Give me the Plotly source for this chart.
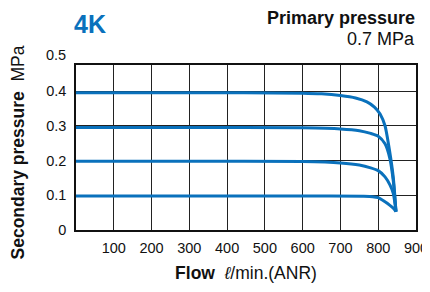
import plotly.graph_objects as go

# Data
flow_04 = [0, 300, 600, 650, 700, 740, 770, 790, 805, 818, 830, 840, 847]
pres_04 = [0.395, 0.395, 0.394, 0.392, 0.387, 0.380, 0.369, 0.354, 0.334, 0.300, 0.228, 0.150, 0.053]

flow_03 = [0, 300, 600, 700, 750, 780, 800, 818, 831, 840, 847]
pres_03 = [0.295, 0.295, 0.294, 0.291, 0.286, 0.278, 0.270, 0.248, 0.205, 0.140, 0.053]

flow_02 = [0, 300, 600, 700, 750, 780, 800, 818, 831, 840, 847]
pres_02 = [0.198, 0.198, 0.197, 0.193, 0.187, 0.179, 0.171, 0.153, 0.130, 0.105, 0.053]

flow_01 = [0, 300, 600, 760, 785, 800, 818, 831, 840, 847]
pres_01 = [0.098, 0.098, 0.098, 0.097, 0.096, 0.093, 0.081, 0.071, 0.063, 0.053]

x_ticks = [100, 200, 300, 400, 500, 600, 700, 800, 900]
y_ticks = [0, 0.1, 0.2, 0.3, 0.4]
y_labels = ["0", "0.1", "0.2", "0.3", "0.4"]

BLUE = "#0a71bc"
FONT = "Liberation Sans, Arial, sans-serif"

fig = go.Figure()
for fx, py in [(flow_04, pres_04), (flow_03, pres_03), (flow_02, pres_02), (flow_01, pres_01)]:
    fig.add_trace(go.Scatter(x=fx, y=py, mode="lines",
                             line=dict(color=BLUE, width=3, shape="spline", smoothing=0.6),
                             showlegend=False, hoverinfo="skip"))

fig.update_layout(
    width=421, height=275,
    margin=dict(l=68, r=13, t=57, b=53, autoexpand=False),
    paper_bgcolor="white", plot_bgcolor="white",
    font=dict(family=FONT, size=14, color="#111"),
    showlegend=False,
)
fig.update_xaxes(
    range=[0, 900], tickvals=x_ticks, ticktext=[str(v) for v in x_ticks],
    showgrid=True, gridcolor="#222", gridwidth=1,
    showline=True, linecolor="#111", linewidth=1.5, mirror=True,
    ticks="", zeroline=False, tickfont=dict(size=14.5), automargin=False,
    ticklabelstandoff=4, ticklabeloverflow="allow",
    title=dict(text="<b>Flow</b>  <i>ℓ</i>/min.(ANR)", font=dict(size=17.5), standoff=12),
)
fig.update_yaxes(
    range=[0, 0.475], tickvals=y_ticks, ticktext=y_labels,
    showgrid=True, gridcolor="#222", gridwidth=1,
    showline=True, linecolor="#111", linewidth=1.5, mirror=True,
    ticks="", zeroline=False, tickfont=dict(size=14.5), automargin=False,
    ticklabelstandoff=5,
)

fig.add_annotation(text="<b>Secondary pressure</b>  MPa", xref="paper", yref="paper",
                   x=0, y=0.5, xanchor="center", yanchor="middle", textangle=-90,
                   xshift=-59, yshift=-5, showarrow=False, font=dict(size=17.5))
fig.add_annotation(text="0.5", xref="paper", yref="paper", x=0, y=1,
                   xanchor="right", yanchor="middle", xshift=-8, yshift=10,
                   showarrow=False, font=dict(size=14.5))
fig.add_annotation(text="<b>4K</b>", xref="paper", yref="paper", x=0, y=1,
                   xanchor="left", yanchor="middle", xshift=-4, yshift=41,
                   showarrow=False, font=dict(size=25, color=BLUE))
fig.add_annotation(text="<b>Primary pressure</b>", xref="paper", yref="paper", x=1, y=1,
                   xanchor="right", yanchor="middle", xshift=1, yshift=47,
                   showarrow=False, font=dict(size=18))
fig.add_annotation(text="0.7 MPa", xref="paper", yref="paper", x=1, y=1,
                   xanchor="right", yanchor="middle", xshift=1, yshift=26,
                   showarrow=False, font=dict(size=18))

fig.write_html("out.html")
